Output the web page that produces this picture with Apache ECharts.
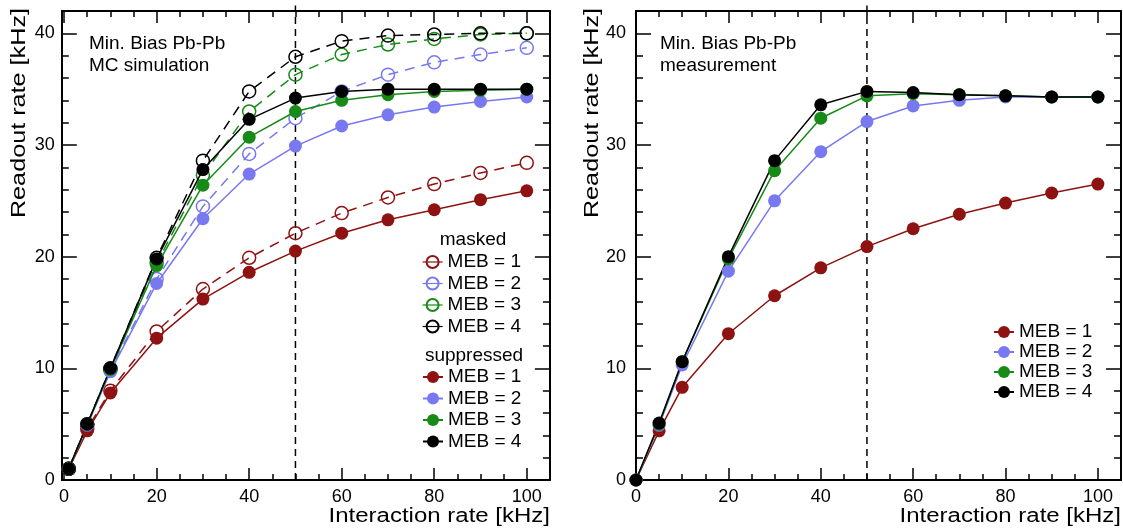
<!DOCTYPE html>
<html><head><meta charset="utf-8">
<script src="https://cdn.jsdelivr.net/npm/echarts@6/dist/echarts.min.js"></script>
<style>html,body{margin:0;padding:0;background:#fff}#c{width:1123px;height:529px}</style>
</head><body><div id="c"></div>
<script>
// ---- data ----
const simX = [1, 5, 10, 20, 30, 40, 50, 60, 70, 80, 90, 100];
const maskedMEB1 = [1.0, 4.6, 8.0, 13.3, 17.1, 19.9, 22.1, 23.9, 25.3, 26.5, 27.5, 28.4];
const maskedMEB2 = [1.0, 4.9, 9.8, 18.0, 24.5, 29.2, 32.4, 34.8, 36.3, 37.4, 38.1, 38.7];
const maskedMEB3 = [1.0, 5.0, 9.9, 19.4, 27.3, 33.0, 36.3, 38.1, 39.0, 39.5, 39.9, 40.0];
const maskedMEB4 = [1.0, 5.0, 10.0, 19.9, 28.6, 34.8, 37.9, 39.3, 39.8, 39.9, 40.0, 40.0];
const suppMEB1 = [1.0, 4.4, 7.8, 12.7, 16.2, 18.6, 20.5, 22.1, 23.3, 24.2, 25.1, 25.9];
const suppMEB2 = [1.0, 4.9, 9.7, 17.6, 23.4, 27.4, 29.9, 31.7, 32.7, 33.4, 33.9, 34.3];
const suppMEB3 = [1.0, 5.0, 9.9, 19.2, 26.4, 30.7, 33.0, 34.0, 34.5, 34.8, 34.9, 35.0];
const suppMEB4 = [1.0, 5.0, 10.0, 19.8, 27.8, 32.3, 34.2, 34.8, 35.0, 35.0, 35.0, 35.0];

const measX = [0, 5, 10, 20, 30, 40, 50, 60, 70, 80, 90, 100];
const measMEB1 = [0, 4.4, 8.3, 13.1, 16.5, 19.0, 20.9, 22.5, 23.8, 24.8, 25.7, 26.5];
const measMEB2 = [0, 4.9, 10.3, 18.7, 25.0, 29.4, 32.1, 33.5, 34.0, 34.3, 34.3, 34.3];
const measMEB3 = [0, 5.0, 10.6, 19.8, 27.7, 32.4, 34.4, 34.6, 34.5, 34.4, 34.3, 34.3];
const measMEB4 = [0, 5.1, 10.6, 20.0, 28.6, 33.6, 34.8, 34.7, 34.5, 34.4, 34.3, 34.3];

const mebLabels = ['MEB = 1', 'MEB = 2', 'MEB = 3', 'MEB = 4'];
const colors = ['#8e1212', '#7878f0', '#178a17', '#000000'];
const xMajorTicks = [0, 20, 40, 60, 80, 100];
const xMinorTicks = [5, 10, 15, 25, 30, 35, 45, 50, 55, 65, 70, 75, 85, 90, 95];
const yMajorTicks = [0, 10, 20, 30, 40];
const yMinorTicks = [2, 4, 6, 8, 12, 14, 16, 18, 22, 24, 26, 28, 32, 34, 36, 38];
const refLineX = 50;

// ---- build ----
const FONT = '"Liberation Sans", Arial, Helvetica, sans-serif';
const grids = [
  { left: 61.8, top: 11, width: 488.1, height: 469, xmin: -0.5, labelMargin: 7 },
  { left: 636, top: 11, width: 485, height: 469, xmin: 0, labelMargin: 10 }
];
const xAxes = [], yAxes = [];
grids.forEach((g, gi) => {
  const common = { gridIndex: gi, type: 'value', splitLine: { show: false }, silent: true };
  const line = (show) => ({ show, onZero: false, lineStyle: { color: '#000', width: 2 } });
  const tick = (vals, len) => ({ show: true, inside: true, length: len, customValues: vals, lineStyle: { color: '#000', width: 1.5 } });
  // x axes
  xAxes.push(Object.assign({}, common, { position: 'bottom', min: g.xmin, max: 105, axisLine: line(true), axisTick: tick(xMajorTicks, 12),
    axisLabel: { show: true, customValues: xMajorTicks, fontSize: 18, fontFamily: FONT, color: '#000', margin: 8 } }));
  xAxes.push(Object.assign({}, common, { position: 'bottom', min: g.xmin, max: 105, axisLine: line(false), axisTick: tick(xMinorTicks, 6), axisLabel: { show: false } }));
  xAxes.push(Object.assign({}, common, { position: 'top', min: g.xmin, max: 105, axisLine: line(true), axisTick: tick(xMajorTicks, 12), axisLabel: { show: false } }));
  xAxes.push(Object.assign({}, common, { position: 'top', min: g.xmin, max: 105, axisLine: line(false), axisTick: tick(xMinorTicks, 6), axisLabel: { show: false } }));
  // y axes
  yAxes.push(Object.assign({}, common, { position: 'left', min: 0, max: 42, axisLine: line(true), axisTick: tick(yMajorTicks, 15),
    axisLabel: { show: true, customValues: yMajorTicks, fontSize: 18, fontFamily: FONT, color: '#000', margin: g.labelMargin } }));
  yAxes.push(Object.assign({}, common, { position: 'left', min: 0, max: 42, axisLine: line(false), axisTick: tick(yMinorTicks, 7), axisLabel: { show: false } }));
  yAxes.push(Object.assign({}, common, { position: 'right', min: 0, max: 42, axisLine: line(true), axisTick: tick(yMajorTicks, 15), axisLabel: { show: false } }));
  yAxes.push(Object.assign({}, common, { position: 'right', min: 0, max: 42, axisLine: line(false), axisTick: tick(yMinorTicks, 7), axisLabel: { show: false } }));
});

function mk(name, xs, ys, color, open, gi) {
  return {
    type: 'line', name, xAxisIndex: gi * 4, yAxisIndex: gi * 4,
    data: xs.map((x, i) => [x, ys[i]]),
    symbol: 'circle', symbolSize: 13, showSymbol: true, clip: false,
    lineStyle: { color, width: 1.5, type: open ? [10, 7] : 'solid' },
    itemStyle: open ? { color: 'rgba(255,255,255,0)', borderColor: color, borderWidth: 1.5 } : { color, borderWidth: 0 },
    emphasis: { disabled: true }, z: open ? 2 : 3
  };
}
const masked = [maskedMEB1, maskedMEB2, maskedMEB3, maskedMEB4];
const supp = [suppMEB1, suppMEB2, suppMEB3, suppMEB4];
const meas = [measMEB1, measMEB2, measMEB3, measMEB4];
const series = [];
// dashed reference lines
[0, 1].forEach(gi => series.push({
  type: 'line', name: 'ref' + gi, xAxisIndex: gi * 4, yAxisIndex: gi * 4, data: [[refLineX, 0], [refLineX, 42.5]],
  symbol: 'none', clip: false, silent: true, lineStyle: { color: '#000', width: 1.5, type: [7, 5] }, z: 1
}));
masked.forEach((d, i) => series.push(mk('masked ' + mebLabels[i], simX, d, colors[i], true, 0)));
supp.forEach((d, i) => series.push(mk('suppressed ' + mebLabels[i], simX, d, colors[i], false, 0)));
meas.forEach((d, i) => series.push(mk('meas ' + mebLabels[i], measX, d, colors[i], false, 1)));

const legendCommon = {
  orient: 'vertical', padding: 0, itemWidth: 20, itemHeight: 15, selectedMode: false,
  textStyle: { fontSize: 19, fontFamily: FONT, color: '#000', lineHeight: 20 },
  formatter: n => n.replace(/^\S+ /, '')
};
const legends = [
  Object.assign({}, legendCommon, { left: 422, top: 252, itemGap: 1.5, data: mebLabels.map(l => 'masked ' + l), lineStyle: { type: 'solid', width: 1.2 } }),
  Object.assign({}, legendCommon, { left: 422, top: 367, itemGap: 1.5, data: mebLabels.map(l => 'suppressed ' + l) }),
  Object.assign({}, legendCommon, { left: 993, top: 322, itemGap: 0, data: mebLabels.map(l => 'meas ' + l) })
];

const txt = (x, y, text, extra) => ({ type: 'text', x, y, silent: true,
  style: Object.assign({ text, font: '19px ' + FONT, fill: '#000', verticalAlign: 'top' }, extra || {}) });
const graphic = [
  txt(89, 34, 'Min. Bias Pb-Pb'), txt(89, 56, 'MC simulation'),
  txt(660, 34, 'Min. Bias Pb-Pb'), txt(660, 56, 'measurement'),
  txt(473, 230, 'masked', { align: 'center' }),
  txt(474, 346, 'suppressed', { align: 'center' }),
  // axis titles
  { type: 'text', x: 550, y: 526, scaleX: 1.2, silent: true, style: { text: 'Interaction rate [kHz]', font: '20px ' + FONT, fill: '#000', align: 'right', verticalAlign: 'bottom' } },
  { type: 'text', x: 1121, y: 526, scaleX: 1.2, silent: true, style: { text: 'Interaction rate [kHz]', font: '20px ' + FONT, fill: '#000', align: 'right', verticalAlign: 'bottom' } },
  { type: 'text', x: 19.5, y: 8, rotation: Math.PI / 2, scaleX: 1.2, silent: true, style: { text: 'Readout rate [kHz]', font: '21px ' + FONT, fill: '#000', align: 'right', verticalAlign: 'middle' } },
  { type: 'text', x: 592.5, y: 8, rotation: Math.PI / 2, scaleX: 1.2, silent: true, style: { text: 'Readout rate [kHz]', font: '21px ' + FONT, fill: '#000', align: 'right', verticalAlign: 'middle' } }
];

const chart = echarts.init(document.getElementById('c'), null, { renderer: 'canvas' });
chart.setOption({
  animation: false, backgroundColor: '#fff',
  grid: grids.map(g => ({ left: g.left, top: g.top, width: g.width, height: g.height, containLabel: false })),
  xAxis: xAxes, yAxis: yAxes, legend: legends, series, graphic
});
</script></body></html>
